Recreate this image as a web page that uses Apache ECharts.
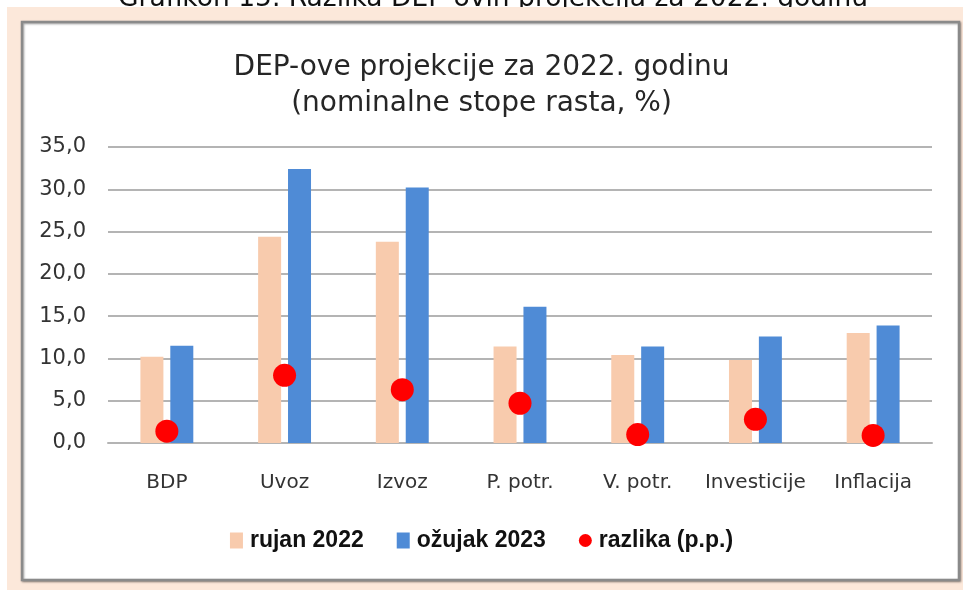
<!DOCTYPE html>
<html>
<head>
<meta charset="utf-8">
<script src="https://cdn.jsdelivr.net/npm/echarts@6/dist/echarts.min.js"></script>
<style>
  html, body { margin: 0; padding: 0; background: #fff; }
  #chart { width: 963px; height: 590px; }
</style>
</head>
<body>
<div id="chart"></div>
<script>
  var categories = ['BDP', 'Uvoz', 'Izvoz', 'P. potr.', 'V. potr.', 'Investicije', 'Inflacija']
  var rujan2022 = [10.2, 24.4, 23.8, 11.4, 10.4, 9.8, 13.0]
  var ozujak2023 = [11.5, 32.4, 30.2, 16.1, 11.4, 12.6, 13.9]
  var razlika = [1.4, 8.0, 6.3, 4.7, 1.0, 2.8, 0.9]
  var yTicks = [0, 5, 10, 15, 20, 25, 30, 35]

  var chart = echarts.init(document.getElementById('chart'))
  chart.setOption({
    animation: false,
    graphic: [
      {
        type: 'text',
        left: 118,
        top: -14,
        style: {
          text: 'Grafikon 15. Razlika DEP-ovih projekcija za 2022. godinu',
          font: '26.5px "DejaVu Sans"',
          fill: '#111'
        },
        z: 0
      },
      {
        type: 'rect',
        shape: {x: 7, y: 7, width: 960, height: 590},
        style: {fill: '#FCE8DA'},
        z: 0
      },
      {
        type: 'rect',
        shape: {x: 22, y: 22, width: 937, height: 558},
        style: {
          fill: '#ffffff',
          stroke: '#8a8a8a',
          lineWidth: 2.5,
          shadowColor: 'rgba(0,0,0,0.35)',
          shadowBlur: 2,
          shadowOffsetX: 1,
          shadowOffsetY: 1
        },
        z: 0
      }
    ],
    title: {
      text: 'DEP-ove projekcije za 2022. godinu\n(nominalne stope rasta, %)',
      left: 'center',
      top: 45,
      textStyle: {
        fontFamily: 'DejaVu Sans',
        fontSize: 28,
        fontWeight: 'normal',
        lineHeight: 36,
        color: '#262626'
      }
    },
    legend: {
      top: 524,
      left: 'center',
      itemGap: 33,
      itemWidth: 13,
      itemHeight: 16,
      textStyle: {
        fontFamily: 'Liberation Sans',
        fontSize: 23,
        fontWeight: 'bold',
        color: '#111',
        padding: [0, 0, 0, 2]
      },
      data: [
        {name: 'rujan 2022', icon: 'rect'},
        {name: 'ožujak 2023', icon: 'rect'},
        {name: 'razlika (p.p.)', icon: 'circle'}
      ]
    },
    grid: {
      left: 108,
      right: 31,
      top: 147,
      bottom: 147
    },
    xAxis: {
      type: 'category',
      data: categories,
      axisTick: {show: false},
      axisLine: {lineStyle: {color: '#b4b4b4', width: 2}},
      axisLabel: {
        interval: 0,
        margin: 30,
        fontFamily: 'DejaVu Sans',
        fontSize: 20,
        color: '#333'
      }
    },
    yAxis: {
      type: 'value',
      min: yTicks[0],
      max: yTicks[yTicks.length - 1],
      interval: yTicks[1] - yTicks[0],
      axisLine: {show: false},
      axisTick: {show: false},
      splitLine: {lineStyle: {color: '#b4b4b4', width: 2}},
      axisLabel: {
        margin: 22,
        fontFamily: 'DejaVu Sans',
        fontSize: 21,
        color: '#333',
        formatter: function (v) { return v.toFixed(1).replace('.', ',') }
      }
    },
    series: [
      {
        name: 'rujan 2022',
        type: 'bar',
        data: rujan2022,
        barWidth: 23,
        barGap: '30%',
        itemStyle: {color: '#F8CBAD'}
      },
      {
        name: 'ožujak 2023',
        type: 'bar',
        data: ozujak2023,
        barWidth: 23,
        itemStyle: {color: '#4F8BD6'}
      },
      {
        name: 'razlika (p.p.)',
        type: 'scatter',
        data: razlika,
        symbol: 'circle',
        symbolSize: 23,
        itemStyle: {color: '#FF0000', opacity: 1},
        z: 5
      }
    ]
  })
</script>
</body>
</html>
